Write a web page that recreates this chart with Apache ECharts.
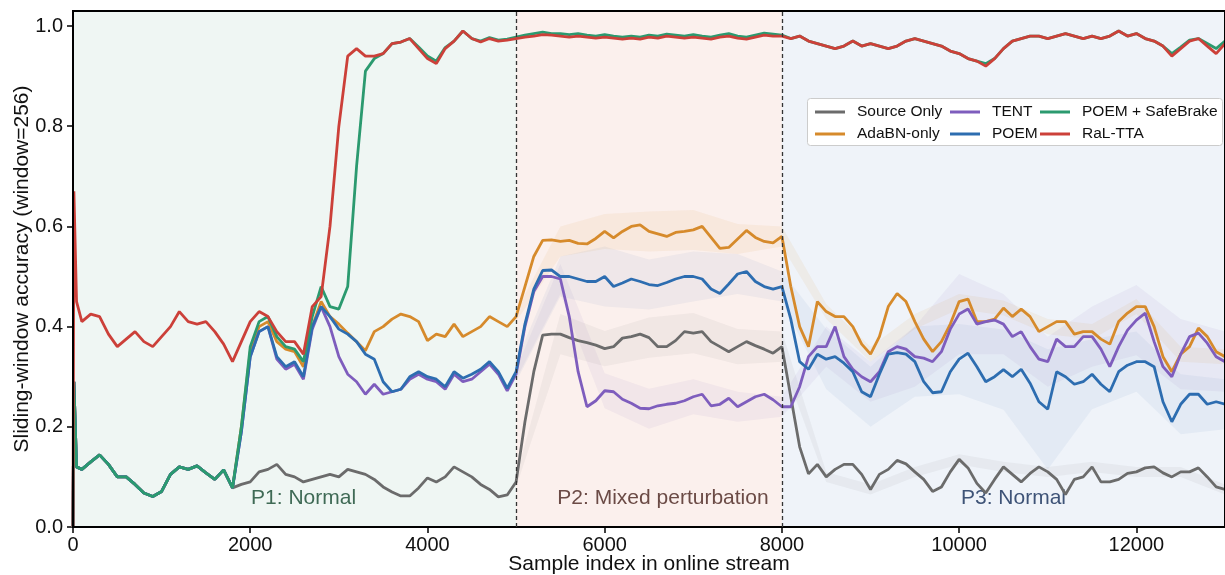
<!DOCTYPE html>
<html>
<head>
<meta charset="utf-8">
<title>Sliding-window accuracy</title>
<script src="https://cdn.jsdelivr.net/npm/echarts@6.0.0/dist/echarts.min.js"></script>
<style>
  html, body { margin: 0; padding: 0; background: #fff; }
  #chart { width: 1225px; height: 575px; }
</style>
</head>
<body>
<div id="chart"></div>
<script>
// sample index of each reading: 0, 10, 40, then every 100 samples up to 13000
const sampleIdx = [0, 10, 40];
for (let s = 100; s <= 13000; s += 100) sampleIdx.push(s);

// P1 start (0 .. 1800): every method except RaL-TTA is still identical here
const sharedStart = [0.0, 0.29, 0.12,
  0.115, 0.13, 0.144, 0.125, 0.1, 0.1, 0.085, 0.068, 0.061,
  0.071, 0.105, 0.12, 0.115, 0.122, 0.108, 0.095, 0.114, 0.078];

// values from 1900 to 13000 (one row per thousand)
const sourceOnlyRest = [0.085,
  0.09, 0.11, 0.115, 0.125, 0.105, 0.1, 0.09, 0.095, 0.1, 0.105,
  0.1, 0.115, 0.11, 0.105, 0.095, 0.08, 0.07, 0.062, 0.062, 0.078,
  0.098, 0.09, 0.1, 0.12, 0.11, 0.1, 0.085, 0.075, 0.06, 0.064,
  0.09, 0.21, 0.31, 0.383, 0.385, 0.385, 0.378, 0.372, 0.368, 0.363,
  0.356, 0.36, 0.377, 0.38, 0.385, 0.378, 0.36, 0.36, 0.372, 0.39,
  0.387, 0.39, 0.37, 0.36, 0.35, 0.36, 0.37, 0.362, 0.355, 0.347,
  0.36, 0.26, 0.16, 0.106, 0.125, 0.1, 0.115, 0.125, 0.125, 0.105,
  0.075, 0.105, 0.115, 0.133, 0.126, 0.11, 0.095, 0.071, 0.08, 0.11,
  0.135, 0.118, 0.087, 0.068, 0.095, 0.12, 0.105, 0.09, 0.107, 0.12,
  0.11, 0.095, 0.065, 0.095, 0.1, 0.12, 0.09, 0.09, 0.095, 0.107,
  0.11, 0.118, 0.12, 0.108, 0.1, 0.11, 0.11, 0.118, 0.1, 0.08,
  0.075];

const adabnRest = [0.2,
  0.35, 0.40, 0.41, 0.37, 0.355, 0.35, 0.32, 0.40, 0.45, 0.42,
  0.405, 0.387, 0.37, 0.352, 0.39, 0.4, 0.415, 0.425, 0.42, 0.41,
  0.372, 0.385, 0.38, 0.405, 0.38, 0.39, 0.4, 0.42, 0.41, 0.4,
  0.42, 0.48, 0.54, 0.572, 0.573, 0.57, 0.572, 0.566, 0.565, 0.576,
  0.59, 0.577, 0.59, 0.6, 0.603, 0.59, 0.585, 0.58, 0.588, 0.59,
  0.593, 0.6, 0.578, 0.556, 0.558, 0.575, 0.592, 0.578, 0.57, 0.567,
  0.58, 0.48, 0.4, 0.36, 0.45, 0.43, 0.42, 0.42, 0.4, 0.365,
  0.345, 0.38, 0.44, 0.466, 0.45, 0.41, 0.375, 0.35, 0.37, 0.405,
  0.45, 0.455, 0.41, 0.41, 0.415, 0.437, 0.42, 0.435, 0.42, 0.39,
  0.4, 0.41, 0.41, 0.385, 0.39, 0.39, 0.375, 0.365, 0.41, 0.427,
  0.44, 0.44, 0.4, 0.34, 0.31, 0.345, 0.36, 0.397, 0.38, 0.35,
  0.34];

const tentRest = [0.19,
  0.34, 0.39, 0.40, 0.335, 0.315, 0.325, 0.295, 0.395, 0.44, 0.40,
  0.34, 0.305, 0.29, 0.265, 0.285, 0.265, 0.27, 0.275, 0.295, 0.305,
  0.295, 0.29, 0.275, 0.305, 0.29, 0.295, 0.31, 0.325, 0.305, 0.272,
  0.305, 0.4, 0.47, 0.5, 0.5, 0.495, 0.42, 0.31, 0.24, 0.252,
  0.272, 0.27, 0.255, 0.247, 0.237, 0.236, 0.242, 0.245, 0.247, 0.252,
  0.26, 0.265, 0.242, 0.245, 0.257, 0.24, 0.25, 0.26, 0.265, 0.254,
  0.24, 0.24, 0.28, 0.34, 0.36, 0.36, 0.40, 0.34, 0.315, 0.3,
  0.29, 0.31, 0.35, 0.36, 0.355, 0.34, 0.337, 0.33, 0.35, 0.395,
  0.425, 0.435, 0.405, 0.41, 0.413, 0.405, 0.38, 0.39, 0.36, 0.335,
  0.33, 0.375, 0.36, 0.36, 0.38, 0.38, 0.355, 0.32, 0.36, 0.393,
  0.413, 0.427, 0.37, 0.32, 0.3, 0.345, 0.38, 0.387, 0.367, 0.34,
  0.33];

const poemRest = [0.19,
  0.34, 0.39, 0.40, 0.34, 0.32, 0.33, 0.30, 0.40, 0.44, 0.42,
  0.395, 0.385, 0.37, 0.345, 0.335, 0.29, 0.27, 0.275, 0.3, 0.31,
  0.3, 0.295, 0.28, 0.31, 0.297, 0.305, 0.315, 0.33, 0.31, 0.277,
  0.31, 0.405, 0.475, 0.512, 0.513, 0.5, 0.5, 0.495, 0.49, 0.49,
  0.5, 0.48, 0.487, 0.495, 0.49, 0.484, 0.482, 0.488, 0.495, 0.5,
  0.5, 0.495, 0.475, 0.466, 0.485, 0.505, 0.51, 0.49, 0.48, 0.475,
  0.48, 0.415, 0.33, 0.315, 0.345, 0.335, 0.34, 0.327, 0.31, 0.27,
  0.26, 0.305, 0.345, 0.348, 0.345, 0.33, 0.29, 0.268, 0.27, 0.31,
  0.335, 0.347, 0.32, 0.29, 0.3, 0.314, 0.3, 0.315, 0.287, 0.25,
  0.235, 0.31, 0.3, 0.285, 0.29, 0.305, 0.285, 0.27, 0.31, 0.323,
  0.33, 0.33, 0.32, 0.25, 0.21, 0.245, 0.265, 0.265, 0.245, 0.25,
  0.245];

const safeBrakeRest = [0.2,
  0.36, 0.41, 0.42, 0.38, 0.36, 0.355, 0.33, 0.42, 0.48, 0.44,
  0.435, 0.48, 0.72, 0.91, 0.935, 0.945, 0.965, 0.968, 0.975, 0.958,
  0.94, 0.93, 0.957, 0.97, 0.99, 0.975, 0.97, 0.977, 0.972, 0.974,
  0.978, 0.982, 0.985, 0.988, 0.985, 0.985, 0.983, 0.985, 0.982, 0.98,
  0.983, 0.98, 0.978, 0.98, 0.978, 0.982, 0.98, 0.984, 0.982, 0.98,
  0.983, 0.98, 0.978, 0.982, 0.985, 0.98, 0.978, 0.982, 0.986, 0.984,
  0.982, 0.975, 0.98, 0.97, 0.965, 0.96, 0.955, 0.96, 0.97, 0.96,
  0.965, 0.96, 0.955, 0.96, 0.97, 0.975, 0.97, 0.965, 0.96, 0.95,
  0.945, 0.935, 0.93, 0.925, 0.935, 0.955, 0.97, 0.975, 0.98, 0.98,
  0.975, 0.98, 0.985, 0.98, 0.975, 0.98, 0.975, 0.98, 0.99, 0.98,
  0.985, 0.975, 0.97, 0.96, 0.945, 0.958, 0.972, 0.975, 0.965, 0.955,
  0.97];

const ralStart = [0.0, 0.67, 0.45,
  0.41, 0.425, 0.42, 0.385, 0.36, 0.375, 0.39, 0.37, 0.36,
  0.38, 0.40, 0.43, 0.41, 0.405, 0.41, 0.39, 0.365, 0.33];

const ralRest = [0.37,
  0.41, 0.43, 0.42, 0.39, 0.37, 0.37, 0.345, 0.44, 0.46, 0.60,
  0.80, 0.94, 0.955, 0.94, 0.94, 0.945, 0.965, 0.968, 0.975, 0.955,
  0.935, 0.925, 0.955, 0.97, 0.99, 0.975, 0.968, 0.975, 0.97, 0.972,
  0.975, 0.978, 0.98, 0.983, 0.982, 0.98, 0.978, 0.98, 0.978, 0.976,
  0.978, 0.976, 0.974, 0.976, 0.974, 0.978, 0.976, 0.98, 0.978, 0.976,
  0.978, 0.976, 0.974, 0.978, 0.98, 0.976, 0.974, 0.978, 0.982, 0.98,
  0.98, 0.975, 0.98, 0.97, 0.965, 0.96, 0.955, 0.96, 0.97, 0.96,
  0.965, 0.96, 0.955, 0.96, 0.97, 0.975, 0.97, 0.965, 0.96, 0.95,
  0.945, 0.935, 0.93, 0.92, 0.935, 0.955, 0.97, 0.975, 0.98, 0.98,
  0.975, 0.98, 0.985, 0.98, 0.975, 0.98, 0.975, 0.98, 0.99, 0.98,
  0.985, 0.975, 0.97, 0.96, 0.94, 0.955, 0.97, 0.975, 0.96, 0.945,
  0.965];

const sourceOnly = sharedStart.concat(sourceOnlyRest);
const adabnOnly = sharedStart.concat(adabnRest);
const tent = sharedStart.concat(tentRest);
const poem = sharedStart.concat(poemRest);
const poemSafeBrake = sharedStart.concat(safeBrakeRest);
const ralTta = ralStart.concat(ralRest);

// shaded spread (half width) around some methods, read every 500 samples from 5000
const bandX = [5000, 5500, 6000, 6500, 7000, 7500, 8000, 8500, 9000,
  9500, 10000, 10500, 11000, 11500, 12000, 12500, 13000];
const sourceBand = [0.01, 0.04, 0.035, 0.04, 0.04, 0.035, 0.03, 0.01, 0.01,
  0.01, 0.01, 0.01, 0.01, 0.01, 0.01, 0.01, 0.01];
const adabnBand = [0.01, 0.03, 0.035, 0.04, 0.04, 0.03, 0.02, 0.015, 0.015,
  0.015, 0.015, 0.015, 0.015, 0.015, 0.015, 0.015, 0.015];
const tentBand = [0.01, 0.03, 0.035, 0.04, 0.035, 0.03, 0.02, 0.04, 0.04,
  0.06, 0.08, 0.06, 0.05, 0.06, 0.07, 0.07, 0.06];
const poemBand = [0.02, 0.04, 0.06, 0.05, 0.05, 0.04, 0.03, 0.06, 0.06,
  0.07, 0.07, 0.08, 0.12, 0.07, 0.06, 0.06, 0.05];

const phaseNames = ['P1: Normal', 'P2: Mixed perturbation', 'P3: Normal'];
const phaseBounds = [0, 5000, 8000, 13000];

const FONT = '"Liberation Sans", Arial, Helvetica, sans-serif';

const methods = [
  { name: 'Source Only', color: '#6b6b6b', values: sourceOnly, band: sourceBand, bandColor: 'rgba(110,110,110,0.07)' },
  { name: 'AdaBN-only', color: '#d68a2b', values: adabnOnly, band: adabnBand, bandColor: 'rgba(214,138,43,0.08)' },
  { name: 'TENT', color: '#7e5dbd', values: tent, band: tentBand, bandColor: 'rgba(126,93,189,0.07)' },
  { name: 'POEM', color: '#2d6db0', values: poem, band: poemBand, bandColor: 'rgba(45,109,176,0.06)' },
  { name: 'POEM + SafeBrake', color: '#2b9a6f', values: poemSafeBrake },
  { name: 'RaL-TTA', color: '#cc4039', values: ralTta }
];

const toPairs = vals => vals.map((v, i) => [sampleIdx[i], v]);

// one filled polygon per method: lower edge left to right, upper edge back
function bandSeries(m) {
  const data = bandX.map((x, k) => {
    const v = m.values[sampleIdx.indexOf(x)];
    return [x, v - m.band[k], v + m.band[k]];
  });
  return {
    type: 'custom', silent: true, z: 1, data,
    encode: { x: 0, y: [1, 2] },
    renderItem(params, api) {
      if (params.dataIndexInside !== 0) return null;
      const n = params.dataInsideLength;
      const lower = [], upper = [];
      for (let j = 0; j < n; j++) {
        lower.push(api.coord([api.value(0, j), api.value(1, j)]));
        upper.push(api.coord([api.value(0, j), api.value(2, j)]));
      }
      return {
        type: 'polygon',
        shape: { points: lower.concat(upper.reverse()) },
        style: { fill: m.bandColor }
      };
    }
  };
}

const phaseColors = ['#eff6f3', '#fbf0ed', '#eff3f9'];
const phaseTextColors = ['#3f6a55', '#6b4b46', '#3e5377'];
const phaseLabelShift = [9, 14, 10];

const series = [];
series.push({
  name: 'phases', type: 'line', data: [], z: 0, silent: true,
  markArea: {
    silent: true,
    data: phaseNames.map((p, i) => [
      { xAxis: phaseBounds[i], itemStyle: { color: phaseColors[i] },
        label: { show: true, formatter: p, position: 'insideBottom', distance: 18,
          offset: [phaseLabelShift[i], 0], color: phaseTextColors[i], fontSize: 21, fontFamily: FONT } },
      { xAxis: phaseBounds[i + 1] }
    ])
  },
  markLine: {
    silent: true, symbol: ['none', 'none'], label: { show: false },
    lineStyle: { type: [4, 3], color: '#333', width: 1.3 },
    data: [{ xAxis: phaseBounds[1] }, { xAxis: phaseBounds[2] }]
  }
});
methods.forEach(m => { if (m.band) series.push(bandSeries(m)); });
methods.forEach(m => {
  series.push({
    name: m.name, type: 'line', data: toPairs(m.values), symbol: 'none', showSymbol: false,
    lineStyle: { width: 2.8, color: m.color }, itemStyle: { color: m.color },
    emphasis: { disabled: true }, z: 2
  });
});

const legendBase = {
  orient: 'vertical', top: 104, itemWidth: 30, itemHeight: 3, itemGap: 6,
  icon: 'rect', padding: 0, z: 6, selectedMode: false,
  textStyle: { fontFamily: FONT, fontSize: 15.5, color: '#111', lineHeight: 15, padding: [0, 0, 0, 7] }
};

const chart = echarts.init(document.getElementById('chart'), null, { renderer: 'canvas' });
chart.setOption({
  animation: false,
  backgroundColor: '#fff',
  textStyle: { fontFamily: FONT },
  grid: { left: 73, right: 0, top: 11, bottom: 48, show: true, borderColor: '#000', borderWidth: 2, z: 3,
    containLabel: false, outerBoundsMode: 'none' },
  legend: [
    Object.assign({}, legendBase, { left: 815, data: ['Source Only', 'AdaBN-only'] }),
    Object.assign({}, legendBase, { left: 950, data: ['TENT', 'POEM'] }),
    Object.assign({}, legendBase, { left: 1040, data: ['POEM + SafeBrake', 'RaL-TTA'] })
  ],
  graphic: [{
    type: 'rect', left: 807, top: 98, z: 5,
    shape: { width: 415, height: 47, r: 3 },
    style: { fill: '#fff', stroke: '#cccccc', lineWidth: 1 }
  }],
  xAxis: {
    type: 'value', min: 0, max: 13000, interval: 2000,
    name: 'Sample index in online stream', nameLocation: 'middle', nameGap: 27, nameMoveOverlap: false,
    nameTextStyle: { fontSize: 21, color: '#111', fontFamily: FONT },
    axisLine: { show: true, lineStyle: { color: '#000', width: 2 } },
    axisTick: { show: true, length: 6, lineStyle: { color: '#000', width: 1.5 } },
    axisLabel: { fontSize: 20, color: '#111', margin: 8, showMaxLabel: false, fontFamily: FONT,
      formatter: v => String(v) },
    splitLine: { show: false }
  },
  yAxis: {
    type: 'value', min: 0, max: 1.03, interval: 0.2, z: 1,
    name: 'Sliding-window accuracy (window=256)', nameLocation: 'middle', nameGap: 40, nameMoveOverlap: false,
    nameTextStyle: { fontSize: 21, color: '#111', fontFamily: FONT },
    axisLine: { show: true, lineStyle: { color: '#000', width: 2 } },
    axisTick: { show: true, length: 6, lineStyle: { color: '#000', width: 1.5 } },
    axisLabel: { fontSize: 20, color: '#111', margin: 10, showMaxLabel: false, fontFamily: FONT,
      formatter: v => v.toFixed(1) },
    splitLine: { show: true, lineStyle: { color: '#dadada', type: [4, 3], width: 1 } }
  },
  series
});
</script>
</body>
</html>
